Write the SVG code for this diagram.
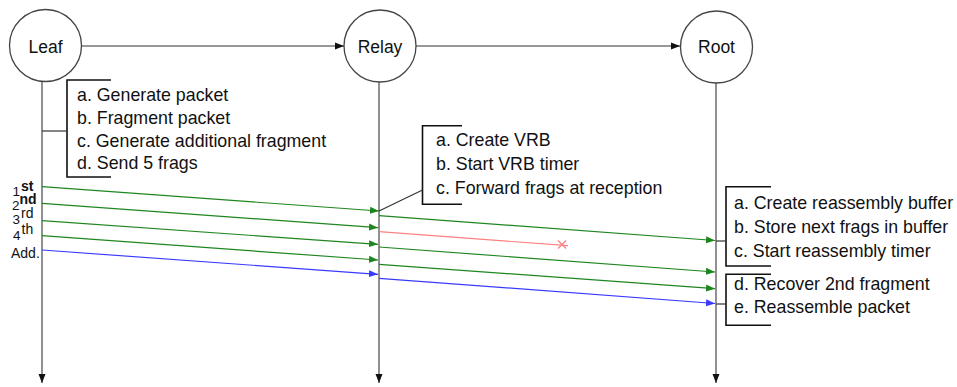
<svg xmlns="http://www.w3.org/2000/svg" width="957" height="387" viewBox="0 0 957 387">
<style>
text{font-family:"Liberation Sans",Arial,sans-serif;fill:#111}
.node circle{fill:#fff;stroke:#444;stroke-width:1.3}
.node text{font-size:17.5px;text-anchor:middle}
.life{stroke:#555;stroke-width:1.3;fill:none}
.br{stroke:#111;stroke-width:1.6;fill:none}
.lnk{stroke:#333;stroke-width:1.2;fill:none}
.note{font-size:17.8px}
.g{stroke:#1f861f;stroke-width:1.2;fill:none}
.b{stroke:#3a3aff;stroke-width:1.2;fill:none}
.r{stroke:#ff8080;stroke-width:1.2;fill:none}
.lab{font-size:13.5px}
.sup{font-size:14px}
.add{font-size:14px}
</style>
<defs>
<marker id="ak" markerUnits="userSpaceOnUse" markerWidth="10" markerHeight="8" refX="9" refY="4" orient="auto"><path d="M0,0.5 L9,4 L0,7.5 z" fill="#111"/></marker>
<marker id="ag" markerUnits="userSpaceOnUse" markerWidth="10" markerHeight="8" refX="9" refY="4" orient="auto"><path d="M0,0.5 L9,4 L0,7.5 z" fill="#1f861f"/></marker>
<marker id="ab" markerUnits="userSpaceOnUse" markerWidth="10" markerHeight="8" refX="9" refY="4" orient="auto"><path d="M0,0.5 L9,4 L0,7.5 z" fill="#3a3aff"/></marker>
</defs>
<rect width="957" height="387" fill="#fff"/>
<g id="connectors">
<line class="lnk" x1="82" y1="46" x2="344" y2="46" marker-end="url(#ak)"/>
<line class="lnk" x1="416" y1="46" x2="680" y2="46" marker-end="url(#ak)"/>
<line class="life" x1="42" y1="81" x2="42" y2="383" marker-end="url(#ak)"/>
<line class="life" x1="379" y1="82" x2="379" y2="383" marker-end="url(#ak)"/>
<line class="life" x1="716" y1="82" x2="716" y2="383" marker-end="url(#ak)"/>
<line class="g" x1="42" y1="186.7" x2="379" y2="211" marker-end="url(#ag)"/>
<line class="g" x1="42" y1="203.3" x2="378" y2="227.7" marker-end="url(#ag)"/>
<line class="g" x1="42" y1="220.7" x2="378" y2="244.3" marker-end="url(#ag)"/>
<line class="g" x1="42" y1="235.7" x2="378" y2="260" marker-end="url(#ag)"/>
<line class="b" x1="42" y1="250" x2="378" y2="274.3" marker-end="url(#ab)"/>
<line class="g" x1="379" y1="215.7" x2="715" y2="240.5" marker-end="url(#ag)"/>
<line class="r" x1="379" y1="231.7" x2="568" y2="245.7"/>
<path class="r" d="M558,240.5 L566,248.5 M558,248.5 L566,240.5"/>
<line class="g" x1="379" y1="247" x2="715" y2="272" marker-end="url(#ag)"/>
<line class="g" x1="379" y1="264.3" x2="715" y2="288.7" marker-end="url(#ag)"/>
<line class="b" x1="379" y1="278.3" x2="715" y2="303.5" marker-end="url(#ab)"/>
</g>
<g id="leaf" class="node"><circle cx="45.5" cy="45.5" r="36"/><text x="45.5" y="52.5">Leaf</text></g>
<g id="relay" class="node"><circle cx="380" cy="46" r="36"/><text x="380" y="53">Relay</text></g>
<g id="root" class="node"><circle cx="716.5" cy="47" r="36"/><text x="716.5" y="53">Root</text></g>
<g id="leaf-note">
<path class="br" d="M111,80 H67 V177 H111"/>
<line class="lnk" x1="42" y1="131" x2="67" y2="131"/>
<text class="note" x="77" y="100.5">a. Generate packet</text>
<text class="note" x="77" y="123.5">b. Fragment packet</text>
<text class="note" x="77" y="146.5">c. Generate additional fragment</text>
<text class="note" x="77" y="169">d. Send 5 frags</text>
</g>
<g id="relay-note">
<path class="br" d="M462,125.7 H422.5 V204.3 H462"/>
<line class="lnk" x1="422.5" y1="190" x2="379" y2="211"/>
<text class="note" x="436" y="146">a. Create VRB</text>
<text class="note" x="436" y="170">b. Start VRB timer</text>
<text class="note" x="436" y="194">c. Forward frags at reception</text>
</g>
<g id="root-note-1">
<path class="br" d="M771,186.7 H726 V266 H771"/>
<line class="lnk" x1="716" y1="241" x2="726" y2="241"/>
<text class="note" x="734" y="209.3">a. Create reassembly buffer</text>
<text class="note" x="734" y="233.3">b. Store next frags in buffer</text>
<text class="note" x="734" y="256.7">c. Start reassembly timer</text>
</g>
<g id="root-note-2">
<path class="br" d="M771,274.3 H726 V325.3 H771"/>
<line class="lnk" x1="716" y1="304" x2="726" y2="304"/>
<text class="note" x="734" y="290">d. Recover 2nd fragment</text>
<text class="note" x="734" y="312.7">e. Reassemble packet</text>
</g>
<g id="labels">
<text class="lab" x="12.5" y="196">1</text><text class="sup" x="21" y="190.7" font-weight="bold">st</text>
<text class="lab" x="12" y="209.5">2</text><text class="sup" x="19.5" y="203.5" font-weight="bold">nd</text>
<text class="lab" x="12.5" y="224">3</text><text class="sup" x="21" y="217.7">rd</text>
<text class="lab" x="13" y="240">4</text><text class="sup" x="21.5" y="234">th</text>
<text class="add" x="11" y="257.5">Add.</text>
</g>
</svg>
